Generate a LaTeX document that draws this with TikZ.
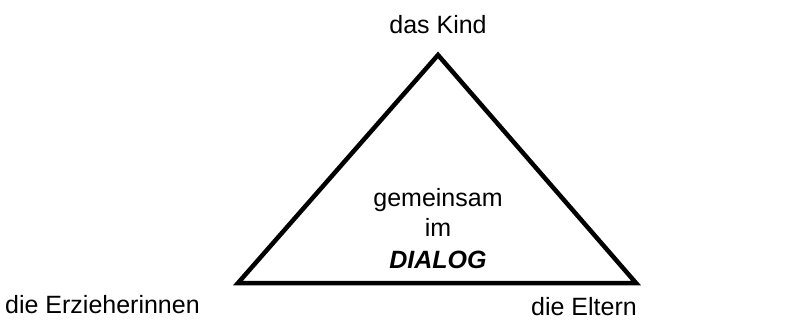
\documentclass[tikz,border=0pt]{standalone}
\usepackage{fontspec}
\setmainfont{Liberation Sans}
\begin{document}
\begin{tikzpicture}[x=1pt,y=1pt,
  lbl/.style={inner sep=0pt,anchor=base,font=\fontsize{25}{30}\selectfont},
  tri/.style={line width=4.5pt,line join=miter}]
\useasboundingbox (0,0) rectangle (788,325);
\coordinate (top) at (438,270);
\coordinate (bl) at (238,42);
\coordinate (br) at (636,42);
\draw[tri] (top) -- (bl) -- (br) -- cycle;
\node[lbl] (kind) at (438,291) {das Kind};
\node[lbl,anchor=base west] (erz) at (5,12) {die Erzieherinnen};
\node[lbl,anchor=base east] (elt) at (637,10) {die Eltern};
\node[lbl] (gem) at (438,119) {gemeinsam};
\node[lbl] (im) at (438,89) {im};
\node[lbl,font=\fontsize{25}{30}\selectfont\bfseries\itshape] (dia) at (438,57) {DIALOG};
\end{tikzpicture}
\end{document}
